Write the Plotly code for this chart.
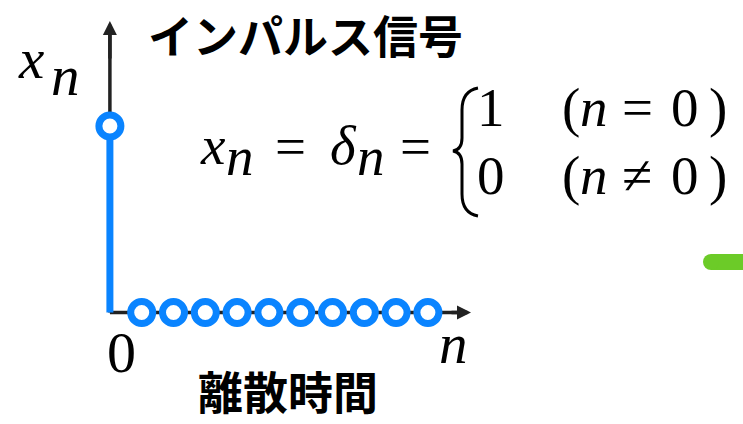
import plotly.graph_objects as go

# ---- data ----
n_values = list(range(0, 11))
x_values = [1, 0, 0, 0, 0, 0, 0, 0, 0, 0, 0]

title_text = "インパルス信号"
xlabel_text = "離散時間"
origin_label = "0"
n_label = "<i>n</i>"

BLUE = "#0A84FF"
GREEN = "#6CCB28"
W, H = 743, 424

# pixel mapping used for axis ranges
X0_PX, DX_PX = 109.9, 31.8
Y0_PX, DY_PX = 312.5, 186.5
xr = [-X0_PX / DX_PX, (W - X0_PX) / DX_PX]
yr = [-(H - Y0_PX) / DY_PX, Y0_PX / DY_PX]

def dx(px):
    return (px - X0_PX) / DX_PX

def dy(py):
    return (Y0_PX - py) / DY_PX

fig = go.Figure()

# stems
sx, sy = [], []
for n, v in zip(n_values, x_values):
    if v != 0:
        sx += [n, n, None]
        sy += [0, v, None]
fig.add_trace(go.Scatter(x=sx, y=sy, mode="lines",
                         line=dict(color=BLUE, width=7), hoverinfo="skip"))
fig.add_trace(go.Scatter(x=n_values, y=x_values, mode="markers",
                         marker=dict(symbol="circle", size=22, color="white",
                                     line=dict(color=BLUE, width=7))))

# axis lines (below traces)
AX = "#222222"
fig.add_shape(type="line", xref="x", yref="y", x0=0, y0=0, x1=dx(462), y1=0,
              line=dict(color=AX, width=3.5), layer="below")
fig.add_shape(type="line", xref="x", yref="y", x0=0, y0=0, x1=0, y1=dy(32),
              line=dict(color=AX, width=3.5), layer="below")
# arrow heads
fig.add_annotation(x=dx(471), y=0, ax=dx(450), ay=0, xref="x", yref="y",
                   axref="x", ayref="y", text="", showarrow=True, arrowhead=2,
                   arrowsize=0.8, arrowwidth=3.5, arrowcolor=AX)
fig.add_annotation(x=0, y=dy(21), ax=0, ay=dy(60), xref="x", yref="y",
                   axref="x", ayref="y", text="", showarrow=True, arrowhead=2,
                   arrowsize=0.8, arrowwidth=3.5, arrowcolor=AX)

SERIF = "Liberation Serif"
CJK = "Noto Sans CJK JP"
MS = 55

def txt(s, x, y, size=MS, family=SERIF, xanchor="center", weight="normal", color="black"):
    fig.add_annotation(text=s, x=x / W, y=1 - y / H, xref="paper", yref="paper",
                       showarrow=False, xanchor=xanchor, yanchor="middle",
                       borderpad=0,
                       font=dict(family=family, size=size, color=color, weight=weight))

# titles
txt(title_text, 305, 34, size=45, family=CJK, weight="bold")
txt(xlabel_text, 288, 390, size=45, family=CJK, weight="bold")

# axis labels
txt("<i>x</i>", 31, 58, size=57)
txt("<i>n</i>", 65, 76, size=57)
txt(origin_label, 121, 352, size=58)
txt(n_label, 453, 343, size=57)

# equation left part
txt("<i>x</i>", 213, 145)
txt("<i>n</i>", 240, 157)
txt("=", 290, 146)
txt("<i>δ</i>", 343, 145)
txt("<i>n</i>", 371, 157)
txt("=", 415, 146)

# brace
def P(x, y):
    return f"{dx(x):.4f},{dy(y):.4f}"
brace = (f"M {P(478,88)} C {P(467,90)} {P(462,98)} {P(462,110)} L {P(462,138)} "
         f"C {P(462,146)} {P(459,150)} {P(453,151)} C {P(459,152)} {P(462,156)} {P(462,164)} "
         f"L {P(462,194)} C {P(462,206)} {P(467,214)} {P(478,216)}")
fig.add_shape(type="path", xref="x", yref="y", path=brace,
              line=dict(color="black", width=3))

# cases
rows = [("1", "=", 107), ("0", "≠", 175)]
for val, rel, yc in rows:
    txt(val, 491, yc)
    txt("(", 571, yc)
    txt("<i>n</i>", 594, yc)
    txt(rel, 637, yc)
    txt("0", 685, yc)
    txt(")", 718, yc)

# green decoration (cropped element at the right edge)
fig.add_shape(type="rect", xref="x", yref="y", x0=dx(711), x1=dx(760),
              y0=dy(270), y1=dy(254), fillcolor=GREEN, line=dict(width=0))
fig.add_shape(type="circle", xref="x", yref="y", x0=dx(703), x1=dx(719),
              y0=dy(270), y1=dy(254), fillcolor=GREEN, line=dict(width=0))

fig.update_layout(
    width=W, height=H, margin=dict(l=0, r=0, t=0, b=0),
    paper_bgcolor="white", plot_bgcolor="white", showlegend=False,
    xaxis=dict(range=xr, visible=False, fixedrange=True),
    yaxis=dict(range=yr, visible=False, fixedrange=True),
)
fig.write_html("out.html", config={"displayModeBar": False},
               post_script="document.body.style.margin='0';")
